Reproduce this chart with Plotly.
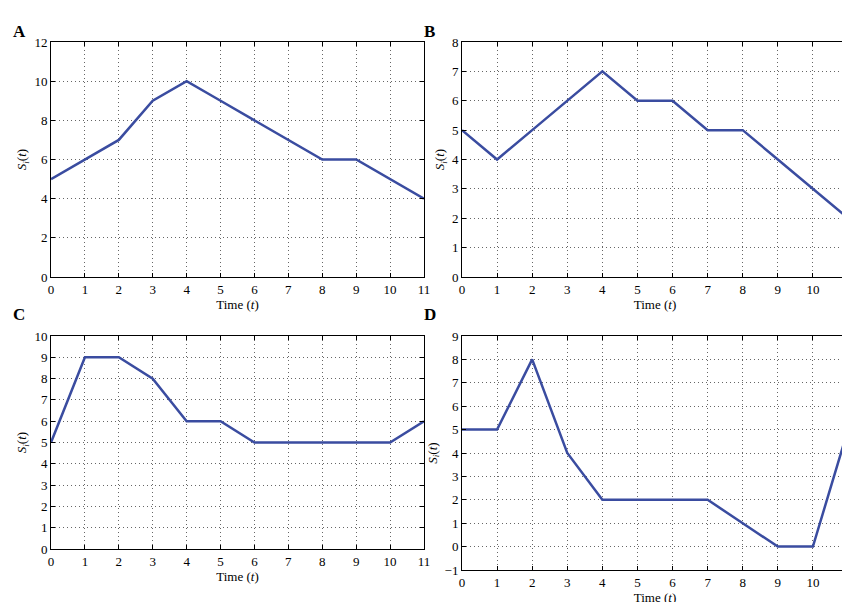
import plotly.graph_objects as go

t = list(range(12))
s_a = [5, 6, 7, 9, 10, 9, 8, 7, 6, 6, 5, 4]
s_b = [5, 4, 5, 6, 7, 6, 6, 5, 5, 4, 3, 2]
s_c = [5, 9, 9, 8, 6, 6, 5, 5, 5, 5, 5, 6]
s_d = [5, 5, 8, 4, 2, 2, 2, 2, 1, 0, 0, 5]

W, H = 850, 602
panels = [
    ("A", s_a, (43, 416), (34, 269), (0, 12)),
    ("B", s_b, (454, 840), (34, 269), (0, 8)),
    ("C", s_c, (43, 416), (328, 541), (0, 10)),
    ("D", s_d, (454, 840), (328, 562), (-1, 9)),
]
font = dict(family="Liberation Serif", size=13, color="black")
line_color = "#3a4ca0"

fig = go.Figure()
layout = {}
annotations = []
for i, (lab, ys, (x0, x1), (y0, y1), yr) in enumerate(panels):
    n = "" if i == 0 else str(i + 1)
    fig.add_trace(go.Scatter(x=t, y=ys, mode="lines", line=dict(color=line_color, width=2.5),
                             xaxis="x" + n, yaxis="y" + n, showlegend=False))
    common = dict(showline=True, mirror="ticks", linecolor="black", linewidth=1,
                  ticks="inside", ticklen=4, tickcolor="black", showgrid=True,
                  gridcolor="#666", griddash="1px,3px", gridwidth=1, zeroline=False,
                  tickfont=font, dtick=1, automargin=False)
    layout["xaxis" + n] = dict(common, domain=[x0 / W, x1 / W], range=[0, 11],
                               anchor="y" + n, title=dict(text="Time (<i>t</i>)", font=font, standoff=2))
    layout["yaxis" + n] = dict(common, domain=[1 - y1 / H, 1 - y0 / H], range=list(yr),
                               dtick=2 if lab == "A" else 1, anchor="x" + n,
                               title=dict(text="<i>S<sub>i</sub></i>(<i>t</i>)", font=font, standoff=4))
    annotations.append(dict(text="<b>" + lab + "</b>", x=(x0 - 40) / W, y=1 - (y0 - 22) / H,
                            xref="paper", yref="paper", showarrow=False, xanchor="left",
                            font=dict(family="Liberation Serif", size=17, color="black")))

fig.update_layout(width=W, height=H, margin=dict(l=0, r=0, t=0, b=0, autoexpand=False),
                  plot_bgcolor="white", paper_bgcolor="white",
                  annotations=annotations, **layout)
fig.write_html("out.html")
